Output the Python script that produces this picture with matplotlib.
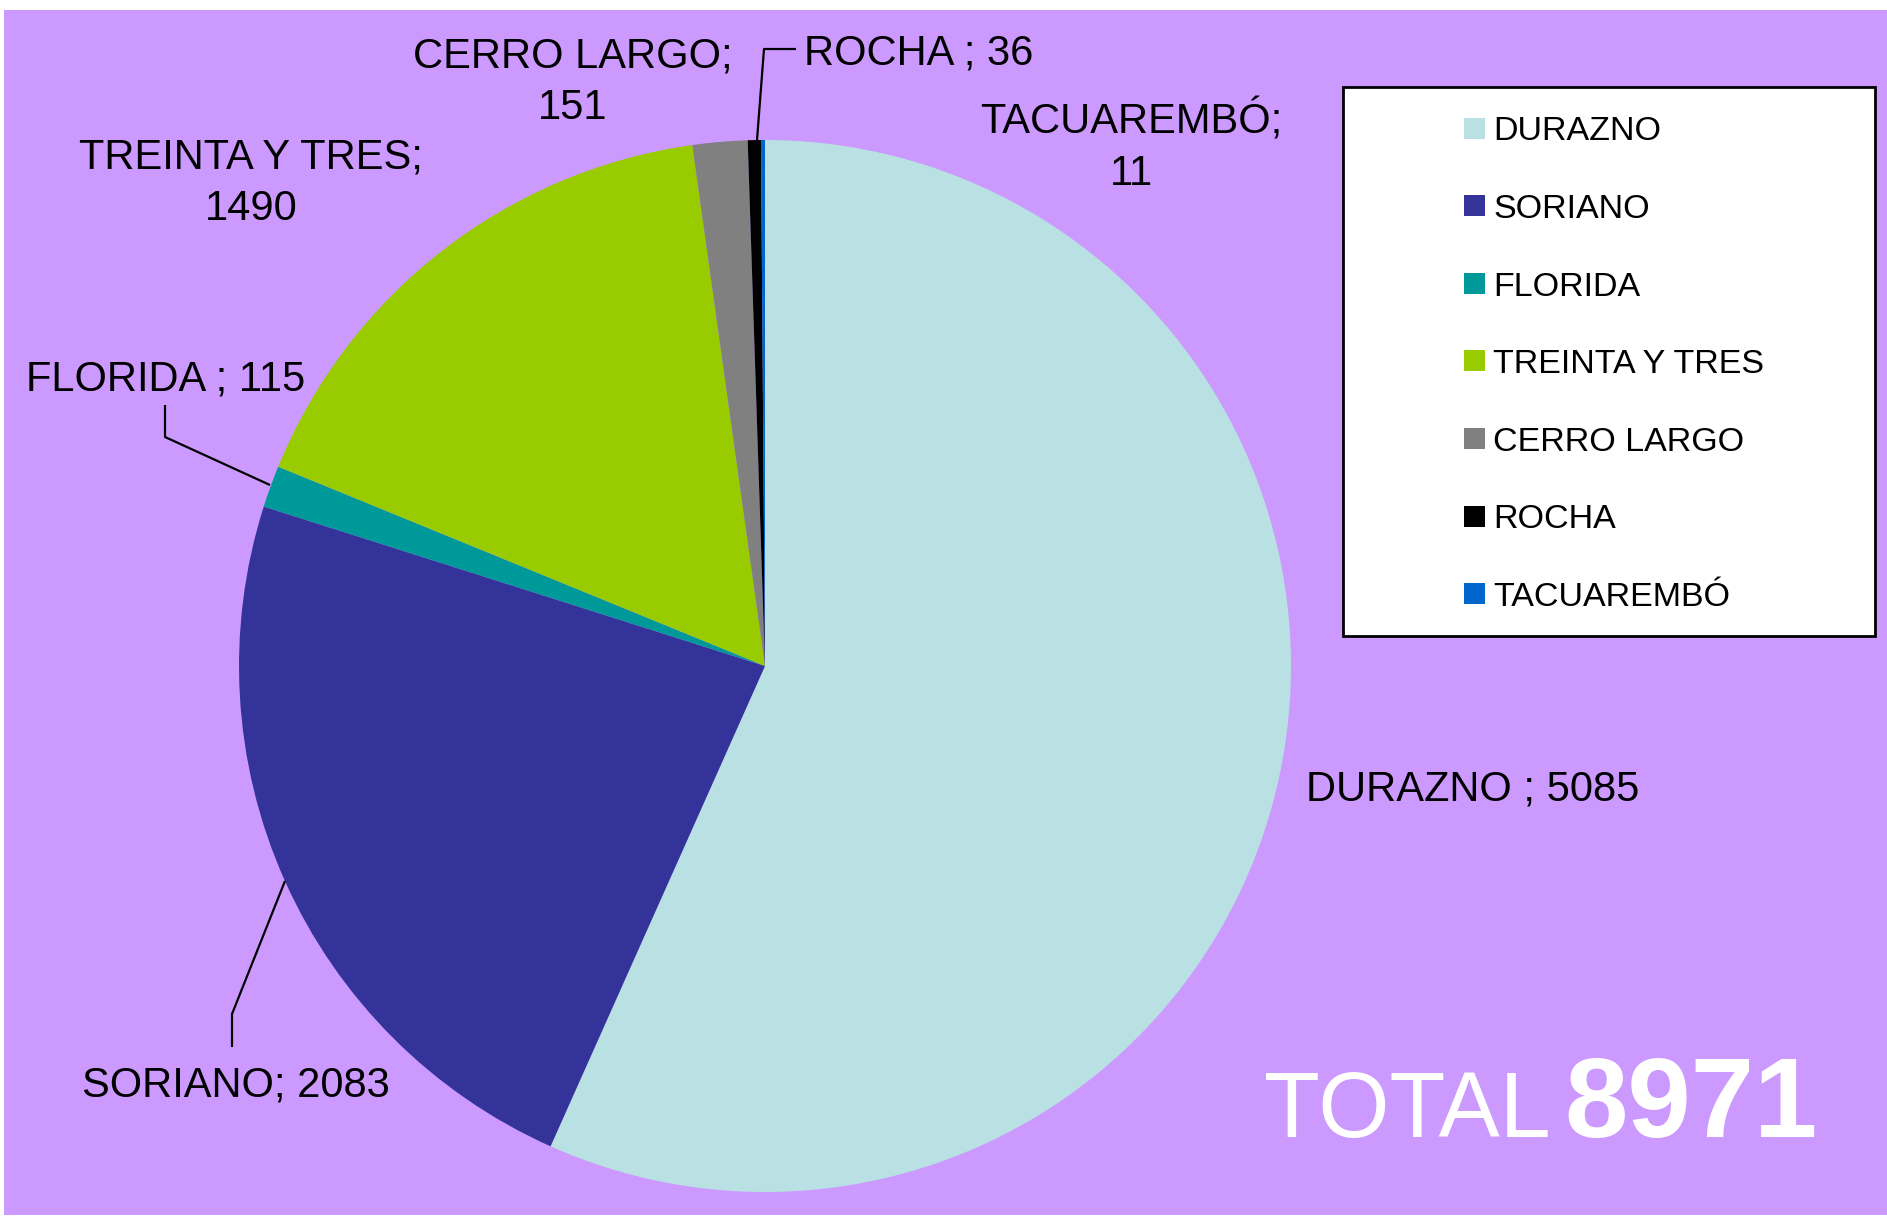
"""Pie chart of cases by department (Uruguay) with total."""

import matplotlib
matplotlib.use("Agg")
import matplotlib.pyplot as plt  # noqa: E402
import matplotlib.patches as mpatches  # noqa: E402

plt.rcParams["font.family"] = ["Liberation Sans", "DejaVu Sans"]

# -- data --
departments = ["DURAZNO", "SORIANO", "FLORIDA", "TREINTA Y TRES",
               "CERRO LARGO", "ROCHA", "TACUAREMBÓ"]
counts = [5085, 2083, 115, 1490, 151, 36, 11]
label_seps = [" ; ", "; ", " ; ", ";\n", ";\n", " ; ", ";\n"]
colors = ["#B9E0E3", "#333399", "#009999", "#99CC00",
          "#808080", "#000000", "#0066CC"]
total_label = "TOTAL"

W, H = 1887, 1216
BG = "#CC99FF"


def fy(y):
    """Pixel row (from top) to data y."""
    return H - y


fig = plt.figure(figsize=(W / 100, H / 100), dpi=100)
fig.patch.set_facecolor("white")

ax = fig.add_axes([0, 0, 1, 1])
ax.patch.set_alpha(0)
# purple chart area (white strip on top and left)
ax.add_patch(mpatches.Rectangle((4, fy(1215)), W, 1215 - 10,
                                facecolor=BG, edgecolor="none", zorder=0))

ax.pie(counts, colors=colors, startangle=90, counterclock=False,
       center=(765, fy(666)), radius=526, frame=True,
       wedgeprops=dict(linewidth=0, zorder=1))
ax.set_xlim(0, W)
ax.set_ylim(0, H)
ax.set_aspect("equal")
ax.set_axis_off()

# -- data labels --
lbl = dict(fontsize=30, color="black")
texts = [f"{d}{s}{v}" for d, s, v in zip(departments, label_seps, counts)]
# (x, baseline of last line, ha)
label_pos = [(1306, 800, "left"), (82, 1097, "left"), (26, 390, "left"),
             (251, 220, "center"), (573, 119, "center"), (804, 65, "left"),
             (1131, 185, "center")]
for t, (x, y, ha) in zip(texts, label_pos):
    ax.text(x, fy(y), t, ha=ha, va="baseline", multialignment="center",
            linespacing=1.36, zorder=5, **lbl)

# leader lines
leaders = [
    [(757, 140), (764, 49), (796, 49)],      # ROCHA
    [(270, 485), (165, 437), (165, 405)],    # FLORIDA
    [(285, 881), (232, 1014), (232, 1047)],  # SORIANO
]
for pts in leaders:
    ax.plot([p[0] for p in pts], [fy(p[1]) for p in pts],
            color="black", lw=1.6, solid_capstyle="butt", zorder=5)

# -- legend --
ax.add_patch(mpatches.Rectangle((1343, fy(636)), 1875 - 1343, 636 - 87,
                                facecolor="white", edgecolor="black", lw=2,
                                zorder=3))
for i, (name, c) in enumerate(zip(departments, colors)):
    yc = 128 + 77.6 * i
    ax.add_patch(mpatches.Rectangle((1464, fy(yc + 10.5)), 21, 21,
                                    facecolor=c, edgecolor="none", zorder=4))
    ax.text(1493, fy(yc + 12.5), name, fontsize=24.5, ha="left",
            va="baseline", zorder=4)

# -- total --
ax.text(1264, fy(1137), total_label, fontsize=66, color="white",
        ha="left", va="baseline", zorder=5)
ax.text(1564, fy(1137), f"{sum(counts)}", fontsize=82, color="white",
        fontweight="bold", ha="left", va="baseline", zorder=5)

fig.savefig("out.png", dpi=100, facecolor=fig.get_facecolor())
plt.close(fig)
